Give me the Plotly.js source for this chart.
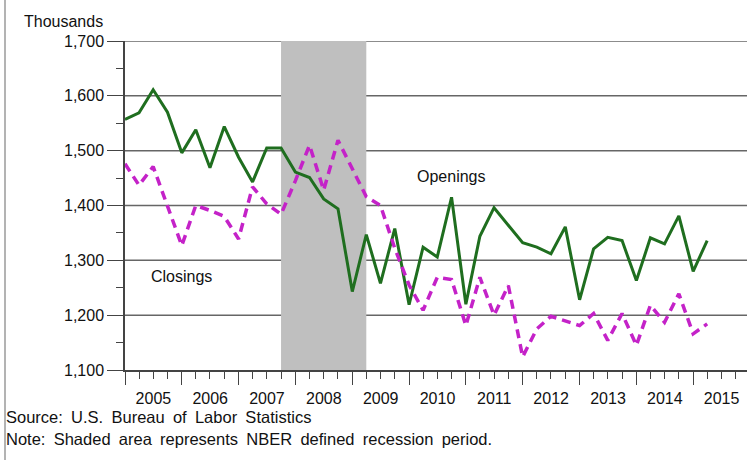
<!DOCTYPE html>
<html>
<head>
<meta charset="utf-8">
<script src="https://cdn.plot.ly/plotly-3.0.1.min.js"></script>
<style>html,body{margin:0;padding:0;background:#fff;}#chart{width:747px;height:460px;}</style>
</head>
<body>
<div id="chart"></div>
<script>
// Quarterly data, 2005Q1 .. 2015Q2 (thousands)
const quarters = [];
for (let y = 2005; y <= 2015; y++) {
  for (const m of ["01", "04", "07", "10"]) {
    if (y === 2015 && (m === "07" || m === "10")) continue;
    quarters.push(y + "-" + m + "-01");
  }
}
const openings = [1557, 1569, 1611, 1570, 1496, 1538, 1469, 1544, 1488, 1443,
  1505, 1505, 1461, 1451, 1412, 1394, 1243, 1347, 1258, 1358,
  1219, 1324, 1306, 1415, 1220, 1344, 1396, 1363, 1332, 1324,
  1312, 1361, 1228, 1321, 1342, 1336, 1263, 1341, 1330, 1381,
  1280, 1336];
const closings = [1476, 1437, 1471, 1400, 1327, 1400, 1391, 1380, 1339, 1434,
  1403, 1384, 1445, 1510, 1428, 1519, 1466, 1416, 1400, 1322,
  1255, 1209, 1269, 1265, 1181, 1269, 1200, 1254, 1124, 1175,
  1198, 1190, 1181, 1203, 1154, 1203, 1145, 1218, 1187, 1239,
  1166, 1184];
const recessionStart = "2007-10-01";
const recessionEnd = "2009-04-01";
const yRange = [1100, 1700];
const yTicks = [1100, 1200, 1300, 1400, 1500, 1600, 1700];
const sourceText = "Source:\u2002U.S.\u2002Bureau\u2002of\u2002Labor\u2002Statistics";
const noteText = "Note:\u2002Shaded\u2002area\u2002represents\u2002NBER\u2002defined\u2002recession\u2002period.";

const L = 125, R = 747, T = 41, B = 370;
const px = v => (v - L) / (R - L);
const py = v => (B - v) / (B - T);
const FONT = "Liberation Sans, Arial, sans-serif";
const AX = "#444";
const GRID = "#666666";

const traces = [
  {x: [recessionStart, recessionStart, recessionEnd, recessionEnd],
   y: [yRange[0], yRange[1], yRange[1], yRange[0]],
   type: "scatter", mode: "lines", fill: "toself", fillcolor: "#bfbfbf",
   line: {width: 0, color: "#bfbfbf"}, hoverinfo: "skip", name: "Recession"},
  {x: quarters, y: openings, type: "scatter", mode: "lines", name: "Openings",
   line: {color: "#1f6e1f", width: 3}},
  {x: quarters, y: closings, type: "scatter", mode: "lines", name: "Closings",
   line: {color: "#c422c8", width: 3.5, dash: "9px,6px"}},
  {x: [], y: [], type: "scatter", mode: "lines", yaxis: "y2", hoverinfo: "skip", showlegend: false}
];

const gridShapes = yTicks.slice(1).map(v => ({
  type: "line", xref: "paper", yref: "y", x0: 0, x1: 1, y0: v, y1: v,
  line: {color: GRID, width: 1.5}, layer: "below"
}));

const layout = {
  width: 747, height: 460,
  margin: {l: L, r: 747 - R, t: T, b: 460 - B, pad: 0},
  paper_bgcolor: "#ffffff", plot_bgcolor: "#ffffff",
  showlegend: false,
  font: {family: FONT, size: 16, color: "#111"},
  xaxis: {
    type: "date",
    range: ["2005-01-01", "2015-12-13"],
    tick0: "2005-01-01", dtick: "M12", tickformat: "%Y",
    ticklabelmode: "period",
    ticks: "outside", ticklen: 13, tickwidth: 1.3, tickcolor: AX,
    minor: {dtick: "M3", ticks: "outside", ticklen: 7, tickwidth: 1.2, tickcolor: AX, showgrid: false},
    showgrid: false, showline: true, linecolor: AX, linewidth: 1.5,
    tickfont: {family: FONT, size: 16, color: "#111"},
    fixedrange: true
  },
  yaxis: {
    range: yRange, tickvals: yTicks,
    tickformat: ",",
    ticks: "outside", ticklen: 16, tickwidth: 1.3, tickcolor: AX,
    showgrid: false,
    showline: true, linecolor: AX, linewidth: 1.5,
    zeroline: false,
    tickfont: {family: FONT, size: 16, color: "#111"},
    fixedrange: true
  },
  yaxis2: {
    overlaying: "y", side: "left", anchor: "x",
    range: yRange, dtick: 50, tick0: 1100,
    ticks: "outside", ticklen: 8, tickwidth: 1.2, tickcolor: AX,
    showticklabels: false, showgrid: false, showline: false, zeroline: false,
    fixedrange: true
  },
  shapes: gridShapes.concat([
    {type: "line", xref: "paper", yref: "paper", x0: px(5), x1: px(5), y0: py(0), y1: py(460),
     line: {color: "#9a9a9a", width: 1.5}}
  ]),
  annotations: [
    {text: "Thousands", xref: "paper", yref: "paper", x: px(22), y: py(21),
     xanchor: "left", yanchor: "middle", showarrow: false, font: {family: FONT, size: 16, color: "#111"}},
    {text: "Openings", xref: "paper", yref: "paper", x: px(451), y: py(177),
     xanchor: "center", yanchor: "middle", showarrow: false, font: {family: FONT, size: 16, color: "#111"}},
    {text: "Closings", xref: "paper", yref: "paper", x: px(181), y: py(276),
     xanchor: "center", yanchor: "middle", showarrow: false, font: {family: FONT, size: 16, color: "#111"}},
    {text: sourceText, xref: "paper", yref: "paper", x: px(4), y: py(417),
     xanchor: "left", yanchor: "middle", showarrow: false, font: {family: FONT, size: 16.5, color: "#111"}},
    {text: noteText, xref: "paper", yref: "paper", x: px(4), y: py(439),
     xanchor: "left", yanchor: "middle", showarrow: false, font: {family: FONT, size: 16.5, color: "#111"}}
  ]
};

Plotly.newPlot("chart", traces, layout, {displayModeBar: false});
</script>
</body>
</html>
